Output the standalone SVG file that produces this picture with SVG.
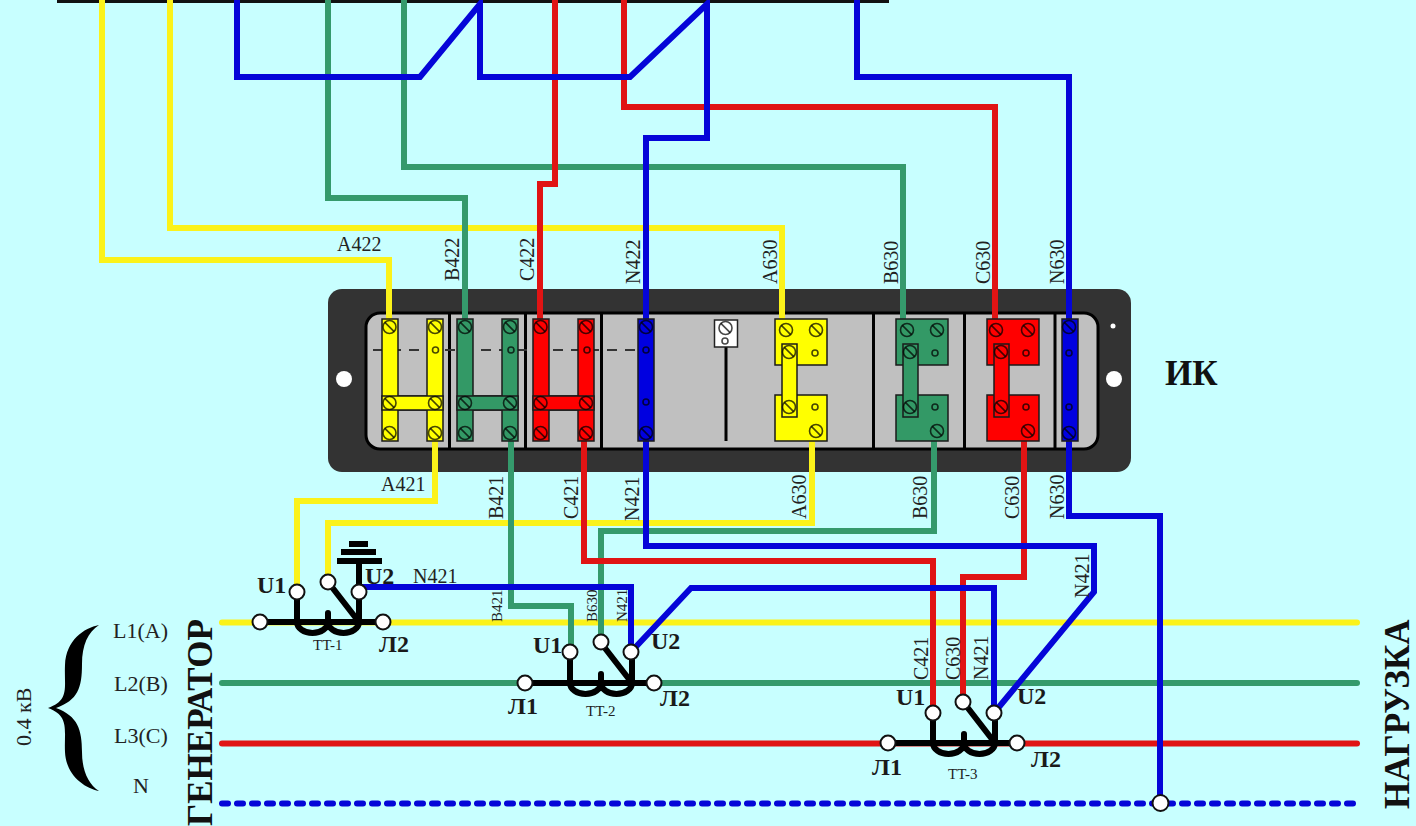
<svg xmlns="http://www.w3.org/2000/svg" width="1416" height="826" viewBox="0 0 1416 826">
<style>
.w{fill:none;stroke-width:6;stroke-linejoin:miter}
.y{stroke:#fbf21a}.g{stroke:#359a6c}.r{stroke:#e01414}.b{stroke:#0505d8}
.fy{fill:#ffff00}.fg{fill:#339966}.fr{fill:#ff0000}.fb{fill:#0000e0}
.t{stroke:#1a1a1a;stroke-width:1.5}
.s{fill:none;stroke:#000;stroke-opacity:.72;stroke-width:1.6}
.n{fill:#fff;stroke:#111;stroke-width:2}
.k{fill:none;stroke:#000;stroke-width:6}
.l{font-family:"Liberation Serif","DejaVu Serif",serif;font-size:20px;fill:#222}
.ls{font-family:"Liberation Serif","DejaVu Serif",serif;font-size:15px;fill:#222}
.m{font-family:"Liberation Serif","DejaVu Serif",serif;font-size:15px;fill:#222}
.h{font-family:"Liberation Serif","DejaVu Serif",serif;font-weight:bold;font-size:24px;fill:#1a1a1a}
.big{font-family:"Liberation Serif","DejaVu Serif",serif;font-weight:bold;font-size:35px;fill:#111}
.p{font-family:"Liberation Serif","DejaVu Serif",serif;font-size:22px;fill:#222}
</style>
<defs>
<g id="sc"><circle r="6.5" class="s"/><path d="M-4.6-4.6L4.6 4.6" class="s"/></g>
<circle id="ri" r="3" class="s"/>
<g id="core"><path d="M0 0A15.5 11 0 0 0 31 0A15.5 11 0 0 0 62 0" fill="none" stroke="#000" stroke-width="6"/><path d="M31 0V-9M0 0V-30M62 0V-30M31-40L62 0" class="k" stroke-linecap="round"/></g>
</defs>
<rect width="1416" height="826" fill="#c8ffff"/>
<rect x="57" y="0" width="832" height="3" fill="#111"/>

<g id="buses" fill="none" stroke-width="6" stroke-linecap="round">
<path d="M222 622.500H1357" class="y"/>
<path d="M222 683H1357" class="g"/>
<path d="M222 743.500H1357" class="r"/>
<path d="M222 803.500H1357" class="b" stroke-dasharray="6 9"/>
</g>

<g id="ik-panel">
<rect x="328" y="289" width="803" height="183" rx="14" fill="#333"/>
<rect x="366" y="313" width="732" height="136" rx="14" fill="#c0c0c0" stroke="#000" stroke-width="3"/>
<path d="M449.500 313V449M525.500 313V449M601.500 313V449M873.500 313V449M964.500 313V449M1055 313V449" stroke="#000" stroke-width="3"/>
<circle cx="344" cy="379" r="8" fill="#fff"/>
<circle cx="1114" cy="379" r="8" fill="#fff"/>
<circle cx="1113" cy="326" r="2.500" fill="#fff"/>
<path d="M373 350H640" stroke="#333" stroke-width="2" stroke-dasharray="10 8" fill="none"/>
</g>

<g id="connectors">
<path d="M102 0V260H389V320" class="w y"/>
<path d="M170 0V228H782V320" class="w y"/>
<path d="M328 0V198H465V320" class="w g"/>
<path d="M404 0V167H903V320" class="w g"/>
<path d="M555 0V184H540V320" class="w r"/>
<path d="M624 0V107H995V320" class="w r"/>
<path d="M237 0V77H420L480 4V77H630L707 4V138H646V320" class="w b"/>
<path d="M857 0V77H1069V320" class="w b"/>
<path d="M435 440V501H297V592" class="w y"/>
<path d="M812 440V523H328V582" class="w y"/>
<path d="M511 440V606H571V652" class="w g"/>
<path d="M934 440V531H601V642" class="w g"/>
<path d="M584 440V561H933V713" class="w r"/>
<path d="M1024 440V577H963V702" class="w r"/>
<path d="M646 440V546H1094V592L994 713" class="w b"/>
<path d="M1069 440V516H1160V803" class="w b"/>
<path d="M359 587H631V652L691 588H994V713" class="w b"/>
</g>

<g id="block-a422">
<path d="M382 319h16v77h29v-77h16v122h-16v-31h-29v31h-16z" class="fy t"/><path d="M382 396h61v14h-61z" class="fy t"/>
<use href="#sc" x="389.500" y="327"/><use href="#sc" x="435" y="327"/><use href="#sc" x="389.500" y="403"/><use href="#sc" x="435" y="403"/><use href="#sc" x="389.500" y="433"/><use href="#sc" x="435" y="433"/><use href="#ri" x="435.500" y="350"/>
</g>
<g id="block-b422">
<path d="M457 319h16v77h29v-77h16v122h-16v-31h-29v31h-16z" class="fg t"/><path d="M457 396h61v14h-61z" class="fg t"/>
<use href="#sc" x="465" y="327"/><use href="#sc" x="510" y="327"/><use href="#sc" x="465" y="403"/><use href="#sc" x="510" y="403"/><use href="#sc" x="465" y="433"/><use href="#sc" x="510" y="433"/><use href="#ri" x="511" y="350"/>
</g>
<g id="block-c422">
<path d="M533 319h16v77h29v-77h16v122h-16v-31h-29v31h-16z" class="fr t"/><path d="M533 396h61v14h-61z" class="fr t"/>
<use href="#sc" x="540.500" y="327"/><use href="#sc" x="586" y="327"/><use href="#sc" x="540.500" y="403"/><use href="#sc" x="586" y="403"/><use href="#sc" x="540.500" y="433"/><use href="#sc" x="586" y="433"/><use href="#ri" x="587" y="350"/>
</g>
<g id="block-n422">
<rect x="638" y="319" width="16" height="122" class="fb t"/>
<use href="#sc" x="646" y="327"/><use href="#ri" x="646" y="350"/><use href="#ri" x="646" y="402"/><use href="#sc" x="646" y="433"/>
</g>
<g id="block-test">
<path d="M726 347V441" stroke="#000" stroke-width="3"/>
<rect x="714.500" y="320" width="23" height="27" fill="#fff" stroke="#222" stroke-width="1.500"/>
<use href="#sc" x="725.500" y="328"/><use href="#ri" x="725" y="341"/>
</g>
<g id="block-a630">
<rect x="775" y="319" width="52" height="46" class="fy t"/><rect x="775" y="395" width="52" height="46" class="fy t"/><rect x="782" y="344" width="15" height="73" class="fy t"/>
<use href="#sc" x="786" y="330"/><use href="#sc" x="816" y="330"/><use href="#sc" x="789" y="352"/><use href="#sc" x="789" y="407"/><use href="#sc" x="816" y="431"/><use href="#ri" x="815" y="353"/><use href="#ri" x="815" y="407"/>
</g>
<g id="block-b630">
<rect x="896" y="319" width="52" height="46" class="fg t"/><rect x="896" y="395" width="52" height="46" class="fg t"/><rect x="903" y="344" width="15" height="73" class="fg t"/>
<use href="#sc" x="907" y="330"/><use href="#sc" x="937" y="330"/><use href="#sc" x="910" y="352"/><use href="#sc" x="910" y="407"/><use href="#sc" x="937" y="431"/><use href="#ri" x="935" y="353"/><use href="#ri" x="935" y="407"/>
</g>
<g id="block-c630">
<rect x="987" y="319" width="52" height="46" class="fr t"/><rect x="987" y="395" width="52" height="46" class="fr t"/><rect x="994" y="344" width="15" height="73" class="fr t"/>
<use href="#sc" x="996" y="330"/><use href="#sc" x="1028" y="330"/><use href="#sc" x="1001" y="352"/><use href="#sc" x="1001" y="407"/><use href="#sc" x="1028" y="431"/><use href="#ri" x="1026" y="353"/><use href="#ri" x="1026" y="407"/>
</g>
<g id="block-n630">
<rect x="1062" y="319" width="16" height="122" class="fb t"/>
<use href="#sc" x="1069" y="327"/><use href="#ri" x="1069" y="353"/><use href="#ri" x="1069" y="407"/><use href="#sc" x="1069" y="433"/>
</g>

<g id="tt-1">
<path d="M260 622H383" class="k"/><use href="#core" x="297" y="622"/>
<path d="M359 592V561M337 561H382M341 552H376M349 544H368" class="k" stroke-width="4"/>
<circle cx="260" cy="622" r="7.500" class="n"/><circle cx="383" cy="622" r="7.500" class="n"/><circle cx="297" cy="592" r="7.500" class="n"/><circle cx="328" cy="582" r="7.500" class="n"/><circle cx="359" cy="592" r="7.500" class="n"/>
<text x="257" y="593" class="h">U1</text><text x="365" y="584" class="h">U2</text><text x="379" y="652" class="h">Л2</text><text x="313" y="650" class="m">TT-1</text>
</g>
<g id="tt-2">
<path d="M525 683H654" class="k"/><use href="#core" x="570" y="683"/>
<circle cx="525" cy="683" r="7.500" class="n"/><circle cx="654" cy="683" r="7.500" class="n"/><circle cx="570" cy="652" r="7.500" class="n"/><circle cx="601" cy="642" r="7.500" class="n"/><circle cx="631" cy="652" r="7.500" class="n"/>
<text x="533" y="653" class="h">U1</text><text x="651" y="649" class="h">U2</text><text x="508" y="714" class="h">Л1</text><text x="660" y="706" class="h">Л2</text><text x="586" y="716" class="m">TT-2</text>
</g>
<g id="tt-3">
<path d="M888 743H1017" class="k"/><use href="#core" x="933" y="743"/>
<circle cx="888" cy="743" r="7.500" class="n"/><circle cx="1017" cy="743" r="7.500" class="n"/><circle cx="933" cy="713" r="7.500" class="n"/><circle cx="963" cy="702" r="7.500" class="n"/><circle cx="994" cy="713" r="7.500" class="n"/>
<text x="896" y="705" class="h">U1</text><text x="1017" y="704" class="h">U2</text><text x="872" y="775" class="h">Л1</text><text x="1031" y="767" class="h">Л2</text><text x="948" y="779" class="m">TT-3</text>
</g>
<g id="n-junction"><circle cx="1160.500" cy="803" r="8" class="n"/></g>

<g id="labels">
<text x="337" y="251" class="l">A422</text>
<text transform="translate(459,281) rotate(-90)" class="l">B422</text>
<text transform="translate(534,281) rotate(-90)" class="l">C422</text>
<text transform="translate(640,284) rotate(-90)" class="l">N422</text>
<text transform="translate(777,284) rotate(-90)" class="l">A630</text>
<text transform="translate(898,284) rotate(-90)" class="l">B630</text>
<text transform="translate(990,284) rotate(-90)" class="l">C630</text>
<text transform="translate(1064,284) rotate(-90)" class="l">N630</text>
<text x="381" y="491" class="l">A421</text>
<text transform="translate(503,519) rotate(-90)" class="l">B421</text>
<text transform="translate(578,519) rotate(-90)" class="l">C421</text>
<text transform="translate(639,521) rotate(-90)" class="l">N421</text>
<text transform="translate(806,519) rotate(-90)" class="l">A630</text>
<text transform="translate(927,519) rotate(-90)" class="l">B630</text>
<text transform="translate(1019,519) rotate(-90)" class="l">C630</text>
<text transform="translate(1064,519) rotate(-90)" class="l">N630</text>
<text x="413" y="583" class="l">N421</text>
<text transform="translate(502,622) rotate(-90)" class="ls">B421</text>
<text transform="translate(597,622) rotate(-90)" class="ls">B630</text>
<text transform="translate(627,622) rotate(-90)" class="ls">N421</text>
<text transform="translate(928,680) rotate(-90)" class="l">C421</text>
<text transform="translate(960,680) rotate(-90)" class="l">C630</text>
<text transform="translate(988,680) rotate(-90)" class="l">N421</text>
<text transform="translate(1089,598) rotate(-90)" class="l">N421</text>
<text x="113" y="638" class="p">L1(A)</text>
<text x="114" y="691" class="p">L2(B)</text>
<text x="114" y="743" class="p">L3(C)</text>
<text x="133" y="793" class="p">N</text>
<text transform="translate(31,746) rotate(-90)" class="p">0.4 кВ</text>
<text transform="translate(212,826) rotate(-90)" class="big">ГЕНЕРАТОР</text>
<text transform="translate(1409,809) rotate(-90)" class="big">НАГРУЗКА</text>
<text x="1165" y="385" class="big">ИК</text>
</g>
<path id="brace" d="M99 625C84 628 66 640 65 665C64 688 70 700 48 708C70 716 64 730 65 752C66 775 84 788 99 791C88 784 82 770 82 752C82 730 78 716 56 708C78 700 82 688 82 664C82 645 88 632 99 625Z" fill="#000"/>
</svg>
